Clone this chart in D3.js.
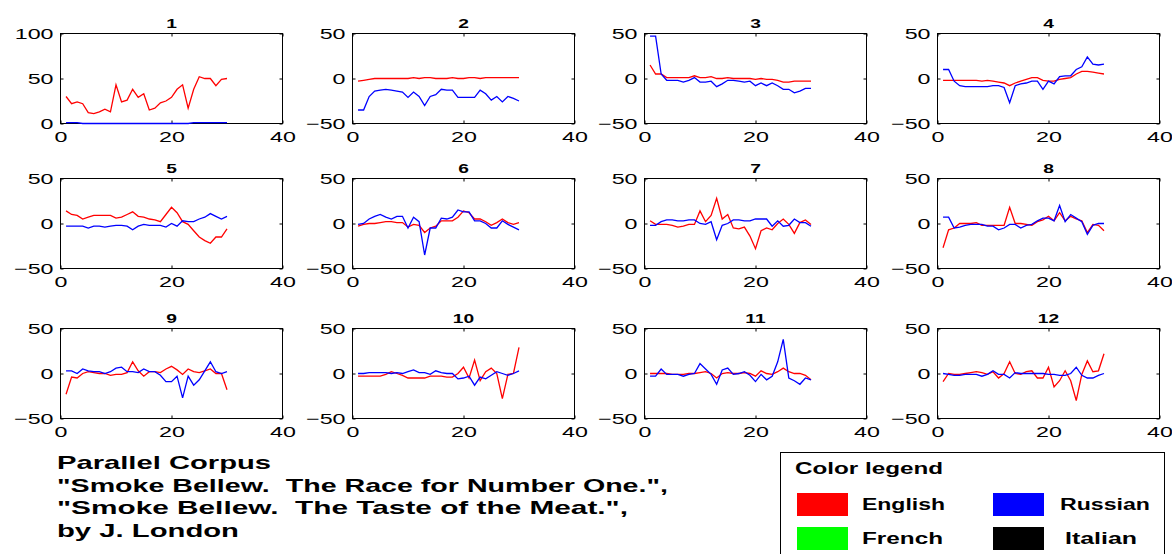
<!DOCTYPE html>
<html>
<head>
<meta charset="utf-8">
<script src="https://cdn.jsdelivr.net/npm/d3@7"></script>
<style>
body { margin: 0; background: #fff; }
svg { display: block; }
text { font-family: "Liberation Sans", Arial, sans-serif; }
</style>
</head>
<body>
<svg width="1172" height="554"></svg>
<script>
// values, x = 1..30 in every panel
var panelTitles = ["1", "2", "3", "4", "5", "6", "7", "8", "9", "10", "11", "12"];
var xTicks = [0, 20, 40];
var yTicksFirst = [0, 50, 100];
var yTicks = [-50, 0, 50];

var english = [
  [30,22,24,22,12,11,13,16,13,43,24,26,38,29,33,15,17,23,25,29,38,43,17,38,52,50,50,42,49,50],
  [-3,-2,-1,0,0,0,0,0,0,0,1,0,1,1,0,0,0,1,0,0,1,1,0,1,1,1,1,1,1,1],
  [15,5,5,1,1,1,1,1,3,1,1,2,0,0,1,0,0,0,0,-1,0,-1,-1,-2,-4,-4,-3,-3,-3,-3],
  [-2,-2,-2,-2,-2,-2,-2,-3,-2,-3,-4,-5,-8,-5,-3,-1,1,1,-2,-3,-3,-1,0,1,5,8,8,7,6,5],
  [14,10,9,5,7,9,9,9,9,6,7,10,13,8,7,5,4,2,10,18,12,2,-1,-8,-15,-19,-22,-15,-15,-6],
  [-3,-1,0,0,1,2,2,1,1,-4,-1,-2,-10,-5,-3,3,3,3,7,14,12,5,5,2,-2,1,5,1,-1,1],
  [3,-1,-1,-1,-2,-4,-3,-1,-1,14,2,9,28,5,10,-5,-6,-4,-14,-28,-8,-5,-7,0,5,-1,-11,1,4,-1],
  [-27,-7,-5,0,0,0,1,-2,-2,-2,-2,-2,18,0,0,-1,-2,2,4,8,3,12,3,8,5,3,-10,-1,-2,-8],
  [-23,-4,-5,0,2,1,0,0,-2,-1,-1,1,13,3,-3,2,2,1,5,8,4,-1,5,2,1,3,5,0,0,-18],
  [-3,-3,-3,-3,-3,-1,2,0,-2,-5,-5,-5,-5,-3,-3,-3,-4,-4,0,7,-5,15,-8,2,6,0,-28,-1,0,29],
  [0,0,0,0,-1,-1,-1,0,0,1,2,0,-5,0,1,0,0,1,0,-3,3,0,-1,2,6,2,0,0,-2,-7],
  [-9,0,-1,-1,0,1,2,1,-1,2,-5,0,13,0,-1,2,3,-5,-5,7,-15,-8,3,-8,-30,-1,14,2,3,22]
];

var russian = [
  [1,1,1,0,0,0,0,0,0,0,0,0,0,0,0,0,0,0,0,0,0,0,0,1,1,1,1,1,1,1],
  [-35,-35,-20,-14,-13,-12,-13,-14,-15,-21,-15,-20,-30,-20,-18,-12,-13,-13,-21,-21,-21,-21,-13,-17,-24,-20,-26,-20,-22,-25],
  [47,47,5,-2,-2,-2,-4,-2,1,-4,-4,-3,-9,-6,-2,-2,-3,-4,-3,-8,-5,-8,-5,-8,-12,-12,-16,-14,-11,-11],
  [10,10,-3,-8,-9,-9,-9,-9,-9,-8,-8,-10,-27,-8,-6,-5,-3,-3,-12,-3,-6,2,3,3,10,13,24,16,15,16],
  [-3,-3,-3,-3,-5,-3,-3,-4,-3,-2,-2,-3,-7,-3,-1,-2,-2,-2,-4,0,-3,3,2,2,5,7,11,8,5,8],
  [-1,0,5,8,10,7,5,8,8,-5,7,2,-35,-5,-5,6,5,7,15,13,13,3,3,0,-5,-5,3,-1,-4,-7],
  [-2,-2,2,4,4,3,3,4,4,0,-1,2,-18,-2,0,4,4,3,3,5,5,5,-3,3,-3,-2,5,1,1,-3],
  [7,7,-5,-4,-2,-1,-1,-1,-3,-3,-7,-5,-1,-1,-5,-2,-1,3,6,6,3,20,2,10,6,2,-12,-2,0,0],
  [3,3,0,5,3,2,2,0,2,6,7,2,2,1,5,2,2,-2,-9,-9,-3,-27,-3,-13,-7,3,13,2,0,2],
  [0,0,1,1,1,1,0,1,0,2,4,1,1,-1,3,1,0,0,-6,-5,-3,-13,-4,-6,-2,2,0,-2,0,3],
  [-3,-3,5,-1,-1,-1,-3,-1,0,11,5,-1,-12,4,6,-1,0,2,-2,-9,-1,-7,-3,13,38,-5,-8,-12,-5,-7],
  [0,-1,-2,-2,-1,-1,-1,-3,-1,3,-1,-1,-5,1,0,0,0,0,0,-1,-1,-2,-2,0,7,-2,-5,-5,-2,0]
];

var corpusLines = [
  "Parallel Corpus",
  "\"Smoke Bellew.  The Race for Number One.\",",
  "\"Smoke Bellew.  The Taste of the Meat.\",",
  "by J. London"
];
var legendLabels = ["English", "Russian", "French", "Italian"];
var legendColors = ["#ff0000", "#0000ff", "#00ff00", "#000000"];

var svg = d3.select("svg");
var SX = 1.55;  // the picture is stretched sideways, text too
var colLeft = [60, 352, 644, 937],
    rowTop = [33, 178, 328],
    pw = 222, ph = 90;

function stretch(sel, sx) {
  sel.each(function() {
    var t = d3.select(this);
    var x = +t.attr("x") || 0;
    t.attr("transform", "translate(" + x + ",0) scale(" + sx + ",1) translate(" + (-x) + ",0)");
  });
}

function styleAxis(a) {
  a.select(".domain").remove();
  a.attr("font-family", null).attr("font-size", 15);
  a.selectAll("line").attr("stroke", "#000");
  a.selectAll("text").attr("fill", "#000");
}

panelTitles.forEach(function(title, i) {
  var g = svg.append("g")
      .attr("transform", "translate(" + (colLeft[i % 4] + 0.5) + "," + (rowTop[Math.floor(i / 4)] + 0.5) + ")");

  var x = d3.scaleLinear().domain([0, 40]).range([0, pw]),
      y = d3.scaleLinear().domain(i == 0 ? [0, 100] : [-50, 50]).range([ph, 0]);
  var yt = i == 0 ? yTicksFirst : yTicks;

  var bottom = g.append("g")
      .attr("transform", "translate(0," + ph + ")")
      .call(d3.axisBottom(x).tickValues(xTicks).tickSize(-3).tickPadding(8));
  styleAxis(bottom);
  stretch(bottom.selectAll("text"), SX);

  var left = g.append("g")
      .call(d3.axisLeft(y).tickValues(yt).tickSize(-3).tickPadding(7)
        .tickFormat(function(d) { return d < 0 ? "\u2212" + Math.abs(d) : d; }));
  styleAxis(left);
  stretch(left.selectAll("text"), SX);

  var top = g.append("g").call(d3.axisTop(x).tickValues(xTicks).tickSize(-3).tickFormat(""));
  styleAxis(top);
  var right = g.append("g")
      .attr("transform", "translate(" + pw + ",0)")
      .call(d3.axisRight(y).tickValues(yt).tickSize(-3).tickFormat(""));
  styleAxis(right);

  g.append("rect")
      .attr("width", pw)
      .attr("height", ph)
      .attr("fill", "none")
      .attr("stroke", "#000");

  var line = d3.line()
      .x(function(d, j) { return x(j + 1); })
      .y(function(d) { return y(d); });

  g.append("path").datum(english[i])
      .attr("d", line)
      .attr("fill", "none")
      .attr("stroke", "#ff0000")
      .attr("stroke-width", 1.3);

  g.append("path").datum(russian[i])
      .attr("d", line)
      .attr("fill", "none")
      .attr("stroke", "#0000ff")
      .attr("stroke-width", 1.3);

  var t = g.append("text")
      .attr("x", pw / 2)
      .attr("y", -6)
      .attr("text-anchor", "middle")
      .attr("font-weight", "bold")
      .attr("font-size", 12)
      .text(title);
  stretch(t, 1.6);
});

// corpus caption, bottom left
var corpusWidths = [214, 611, 571, 182];
svg.selectAll(".corpus")
  .data(corpusLines)
  .enter().append("text")
    .attr("class", "corpus")
    .attr("x", 57)
    .attr("y", function(d, i) { return 469 + i * 22.7; })
    .attr("font-size", 19)
    .attr("font-weight", "bold")
    .attr("textLength", function(d, i) { return corpusWidths[i]; })
    .attr("lengthAdjust", "spacingAndGlyphs")
    .style("white-space", "pre")
    .text(function(d) { return d; });

// legend box
var lg = svg.append("g");
lg.append("rect")
    .attr("x", 780.5).attr("y", 452.5)
    .attr("width", 384).attr("height", 130)
    .attr("fill", "none").attr("stroke", "#000");
lg.append("text")
    .attr("x", 795).attr("y", 474)
    .attr("font-size", 16).attr("font-weight", "bold")
    .attr("textLength", 148).attr("lengthAdjust", "spacingAndGlyphs")
    .text("Color legend");

var swX = [797, 993], swY = [493, 527];
var labelX = [862, 1060, 862, 1065], labelW = [83, 90, 81, 72];
legendLabels.forEach(function(name, i) {
  lg.append("rect")
      .attr("x", swX[i % 2]).attr("y", swY[Math.floor(i / 2)])
      .attr("width", 51).attr("height", 23)
      .attr("fill", legendColors[i]);
  lg.append("text")
      .attr("x", labelX[i]).attr("y", swY[Math.floor(i / 2)] + 17)
      .attr("font-size", 16).attr("font-weight", "bold")
      .attr("textLength", labelW[i]).attr("lengthAdjust", "spacingAndGlyphs")
      .text(name);
});
</script>
</body>
</html>
